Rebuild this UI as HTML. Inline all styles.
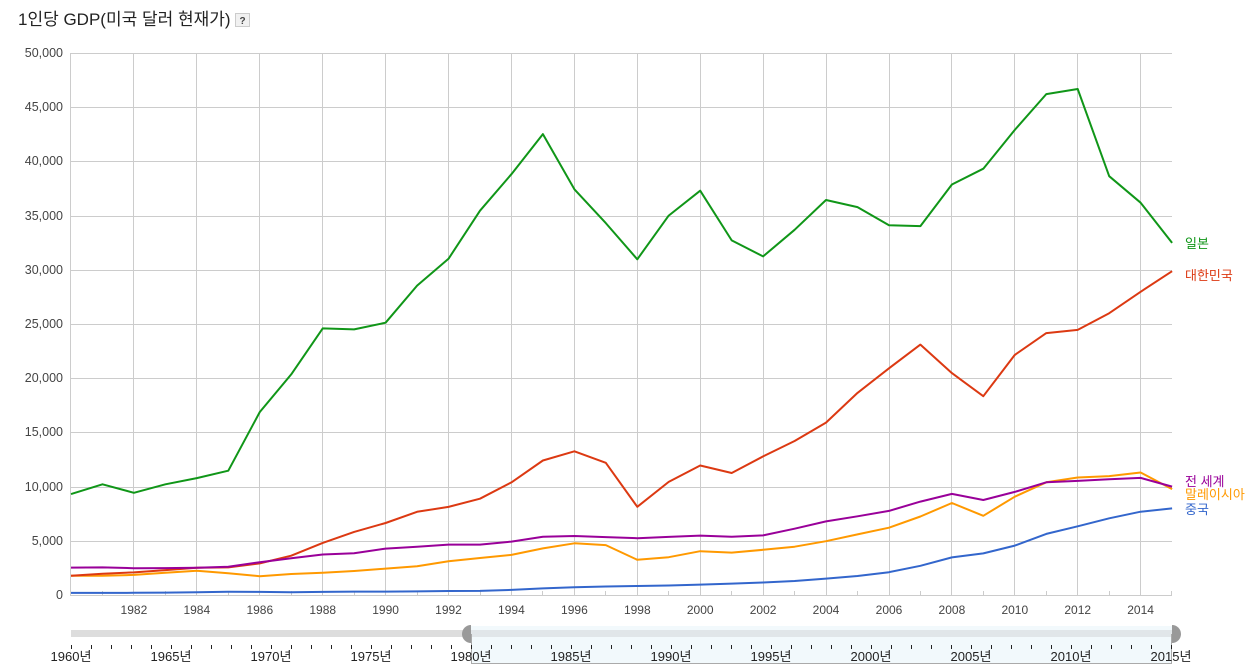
<!DOCTYPE html>
<html><head><meta charset="utf-8">
<style>
html,body{margin:0;padding:0;background:#fff;}
body{width:1256px;height:671px;overflow:hidden;position:relative;font-family:"Liberation Sans","Noto Sans CJK KR",sans-serif;}
svg{position:absolute;left:0;top:0;}
</style></head>
<body>
<svg width="1256" height="671" viewBox="0 0 1256 671" xmlns="http://www.w3.org/2000/svg" font-family="Liberation Sans, Noto Sans CJK KR, sans-serif">
<!-- title -->
<text x="18" y="25" font-size="17" fill="#222">1인당 GDP(미국 달러 현재가)</text>
<rect x="235.5" y="13.5" width="14" height="13" fill="#f1f1f1" stroke="#ccc"/>
<text x="242.5" y="24" font-size="10" font-weight="bold" fill="#444" text-anchor="middle">?</text>

<!-- horizontal grid -->
<g stroke="#cccccc" stroke-width="1">
<line x1="71" y1="53.5" x2="1172" y2="53.5"/>
<line x1="71" y1="107.5" x2="1172" y2="107.5"/>
<line x1="71" y1="161.5" x2="1172" y2="161.5"/>
<line x1="71" y1="216.5" x2="1172" y2="216.5"/>
<line x1="71" y1="270.5" x2="1172" y2="270.5"/>
<line x1="71" y1="324.5" x2="1172" y2="324.5"/>
<line x1="71" y1="378.5" x2="1172" y2="378.5"/>
<line x1="71" y1="432.5" x2="1172" y2="432.5"/>
<line x1="71" y1="487.5" x2="1172" y2="487.5"/>
<line x1="71" y1="541.5" x2="1172" y2="541.5"/>
<line x1="71" y1="595.5" x2="1172" y2="595.5"/>
<!-- vertical grid -->
<line x1="70.5" y1="53" x2="70.5" y2="596"/>
<line x1="133.5" y1="53" x2="133.5" y2="596"/>
<line x1="196.5" y1="53" x2="196.5" y2="596"/>
<line x1="259.5" y1="53" x2="259.5" y2="596"/>
<line x1="322.5" y1="53" x2="322.5" y2="596"/>
<line x1="385.5" y1="53" x2="385.5" y2="596"/>
<line x1="448.5" y1="53" x2="448.5" y2="596"/>
<line x1="511.5" y1="53" x2="511.5" y2="596"/>
<line x1="574.5" y1="53" x2="574.5" y2="596"/>
<line x1="637.5" y1="53" x2="637.5" y2="596"/>
<line x1="700.5" y1="53" x2="700.5" y2="596"/>
<line x1="763.5" y1="53" x2="763.5" y2="596"/>
<line x1="826.5" y1="53" x2="826.5" y2="596"/>
<line x1="889.5" y1="53" x2="889.5" y2="596"/>
<line x1="951.5" y1="53" x2="951.5" y2="596"/>
<line x1="1014.5" y1="53" x2="1014.5" y2="596"/>
<line x1="1077.5" y1="53" x2="1077.5" y2="596"/>
<line x1="1140.5" y1="53" x2="1140.5" y2="596"/>
<!-- odd-year ticks -->
<line x1="102.5" y1="591" x2="102.5" y2="596"/>
<line x1="165.5" y1="591" x2="165.5" y2="596"/>
<line x1="228.5" y1="591" x2="228.5" y2="596"/>
<line x1="291.5" y1="591" x2="291.5" y2="596"/>
<line x1="354.5" y1="591" x2="354.5" y2="596"/>
<line x1="417.5" y1="591" x2="417.5" y2="596"/>
<line x1="480.5" y1="591" x2="480.5" y2="596"/>
<line x1="542.5" y1="591" x2="542.5" y2="596"/>
<line x1="605.5" y1="591" x2="605.5" y2="596"/>
<line x1="668.5" y1="591" x2="668.5" y2="596"/>
<line x1="731.5" y1="591" x2="731.5" y2="596"/>
<line x1="794.5" y1="591" x2="794.5" y2="596"/>
<line x1="857.5" y1="591" x2="857.5" y2="596"/>
<line x1="920.5" y1="591" x2="920.5" y2="596"/>
<line x1="983.5" y1="591" x2="983.5" y2="596"/>
<line x1="1046.5" y1="591" x2="1046.5" y2="596"/>
<line x1="1109.5" y1="591" x2="1109.5" y2="596"/>
<line x1="1171.5" y1="591" x2="1171.5" y2="596"/>
</g>

<!-- y labels -->
<g font-size="12.5" fill="#444" text-anchor="end">
<text x="63" y="57">50,000</text>
<text x="63" y="111">45,000</text>
<text x="63" y="165">40,000</text>
<text x="63" y="220">35,000</text>
<text x="63" y="274">30,000</text>
<text x="63" y="328">25,000</text>
<text x="63" y="382">20,000</text>
<text x="63" y="436">15,000</text>
<text x="63" y="491">10,000</text>
<text x="63" y="545">5,000</text>
<text x="63" y="599">0</text>
</g>
<!-- x labels -->
<g font-size="12" fill="#444" text-anchor="middle">
<text x="133.9" y="614">1982</text>
<text x="196.8" y="614">1984</text>
<text x="259.8" y="614">1986</text>
<text x="322.7" y="614">1988</text>
<text x="385.6" y="614">1990</text>
<text x="448.5" y="614">1992</text>
<text x="511.4" y="614">1994</text>
<text x="574.4" y="614">1996</text>
<text x="637.3" y="614">1998</text>
<text x="700.2" y="614">2000</text>
<text x="763.1" y="614">2002</text>
<text x="826.0" y="614">2004</text>
<text x="889.0" y="614">2006</text>
<text x="951.9" y="614">2008</text>
<text x="1014.8" y="614">2010</text>
<text x="1077.7" y="614">2012</text>
<text x="1140.6" y="614">2014</text>
</g>

<!-- series -->
<g fill="none" stroke-width="2" stroke-linejoin="round">
<!-- China -->
<polyline stroke="#3366cc" points="71.0,592.9 102.5,592.9 133.9,592.8 165.4,592.6 196.8,592.3 228.3,591.8 259.8,591.9 291.2,592.3 322.7,591.9 354.1,591.6 385.6,591.6 417.1,591.4 448.5,591.0 480.0,590.9 511.4,589.9 542.9,588.4 574.4,587.3 605.8,586.5 637.3,586.0 668.7,585.5 700.2,584.6 731.7,583.6 763.1,582.5 794.6,581.0 826.0,578.6 857.5,576.0 889.0,572.2 920.4,565.8 951.9,557.4 983.3,553.4 1014.8,545.6 1046.3,533.9 1077.7,526.3 1109.2,518.3 1140.6,511.7 1172.1,508.4"/>
<!-- Malaysia -->
<polyline stroke="#ff9900" points="71.0,575.8 102.5,575.8 133.9,574.9 165.4,572.8 196.8,570.7 228.3,573.3 259.8,576.2 291.2,574.0 322.7,572.7 354.1,571.0 385.6,568.6 417.1,566.3 448.5,561.3 480.0,558.0 511.4,554.9 542.9,548.4 574.4,543.3 605.8,545.1 637.3,559.8 668.7,557.2 700.2,551.2 731.7,552.6 763.1,549.8 794.6,546.7 826.0,541.2 857.5,534.4 889.0,527.7 920.4,516.5 951.9,503.0 983.3,515.8 1014.8,496.7 1046.3,482.3 1077.7,477.5 1109.2,476.1 1140.6,472.5 1172.1,489.1"/>
<!-- Korea -->
<polyline stroke="#dc3912" points="71.0,575.7 102.5,573.7 133.9,572.4 165.4,570.1 196.8,567.8 228.3,567.4 259.8,563.4 291.2,555.7 322.7,542.9 354.1,531.9 385.6,523.0 417.1,511.8 448.5,506.9 480.0,498.7 511.4,482.4 542.9,460.5 574.4,451.3 605.8,462.8 637.3,506.8 668.7,481.9 700.2,465.5 731.7,473.0 763.1,456.4 794.6,441.0 826.0,422.6 857.5,392.9 889.0,368.3 920.4,344.6 951.9,373.1 983.3,396.2 1014.8,354.9 1046.3,333.1 1077.7,329.9 1109.2,313.2 1140.6,291.8 1172.1,271.2"/>
<!-- World -->
<polyline stroke="#990099" points="71.0,567.6 102.5,567.4 133.9,568.2 165.4,568.1 196.8,567.7 228.3,566.8 259.8,562.2 291.2,558.3 322.7,554.5 354.1,553.3 385.6,548.6 417.1,546.8 448.5,544.6 480.0,544.6 511.4,541.6 542.9,536.7 574.4,536.0 605.8,537.1 637.3,538.2 668.7,536.9 700.2,535.6 731.7,536.8 763.1,535.4 794.6,528.7 826.0,521.4 857.5,516.3 889.0,510.9 920.4,501.6 951.9,493.9 983.3,500.0 1014.8,491.9 1046.3,482.3 1077.7,480.9 1109.2,479.2 1140.6,477.9 1172.1,486.6"/>
<!-- Japan -->
<polyline stroke="#109618" points="71.0,494.1 102.5,484.3 133.9,492.8 165.4,484.3 196.8,478.1 228.3,470.7 259.8,412.0 291.2,374.4 322.7,328.4 354.1,329.4 385.6,322.7 417.1,285.6 448.5,258.8 480.0,210.7 511.4,174.2 542.9,134.1 574.4,189.3 605.8,223.1 637.3,259.3 668.7,215.6 700.2,190.7 731.7,240.4 763.1,256.4 794.6,229.8 826.0,200.0 857.5,207.1 889.0,225.3 920.4,226.1 951.9,184.5 983.3,168.7 1014.8,129.9 1046.3,94.1 1077.7,89.0 1109.2,176.2 1140.6,202.7 1172.1,242.9"/>
</g>

<!-- legend labels -->
<g font-size="13">
<text x="1185" y="248" fill="#109618">일본</text>
<text x="1185" y="280" fill="#dc3912">대한민국</text>
<text x="1185" y="486" fill="#990099">전 세계</text>
<text x="1185" y="499" fill="#ff9900">말레이시아</text>
<text x="1185" y="514" fill="#3366cc">중국</text>
</g>

<!-- slider -->
<rect x="71" y="630" width="400" height="7" fill="#dddddd"/>
<rect x="471" y="626" width="701" height="38" fill="#f2f9fc"/>
<rect x="471" y="630" width="701" height="7" fill="#e1e6e9"/>
<line x1="471.5" y1="634" x2="471.5" y2="664" stroke="#aaa"/>
<line x1="1171.5" y1="634" x2="1171.5" y2="664" stroke="#aaa"/>
<line x1="471" y1="663.5" x2="1172" y2="663.5" stroke="#aaa"/>
<path d="M471,625 A9,9 0 0,0 471,643 Z" fill="#999"/>
<path d="M1172,625 A9,9 0 0,1 1172,643 Z" fill="#999"/>

<g stroke="#222" stroke-width="1">
<line x1="71.5" y1="645" x2="71.5" y2="649"/><line x1="91.5" y1="645" x2="91.5" y2="649"/><line x1="111.5" y1="645" x2="111.5" y2="649"/><line x1="131.5" y1="645" x2="131.5" y2="649"/><line x1="151.5" y1="645" x2="151.5" y2="649"/>
<line x1="171.5" y1="645" x2="171.5" y2="649"/><line x1="191.5" y1="645" x2="191.5" y2="649"/><line x1="211.5" y1="645" x2="211.5" y2="649"/><line x1="231.5" y1="645" x2="231.5" y2="649"/><line x1="251.5" y1="645" x2="251.5" y2="649"/>
<line x1="271.5" y1="645" x2="271.5" y2="649"/><line x1="291.5" y1="645" x2="291.5" y2="649"/><line x1="311.5" y1="645" x2="311.5" y2="649"/><line x1="331.5" y1="645" x2="331.5" y2="649"/><line x1="351.5" y1="645" x2="351.5" y2="649"/>
<line x1="371.5" y1="645" x2="371.5" y2="649"/><line x1="391.5" y1="645" x2="391.5" y2="649"/><line x1="411.5" y1="645" x2="411.5" y2="649"/><line x1="431.5" y1="645" x2="431.5" y2="649"/><line x1="451.5" y1="645" x2="451.5" y2="649"/>
<line x1="471.5" y1="645" x2="471.5" y2="649"/><line x1="491.5" y1="645" x2="491.5" y2="649"/><line x1="511.5" y1="645" x2="511.5" y2="649"/><line x1="531.5" y1="645" x2="531.5" y2="649"/><line x1="551.5" y1="645" x2="551.5" y2="649"/>
<line x1="571.5" y1="645" x2="571.5" y2="649"/><line x1="591.5" y1="645" x2="591.5" y2="649"/><line x1="611.5" y1="645" x2="611.5" y2="649"/><line x1="631.5" y1="645" x2="631.5" y2="649"/><line x1="651.5" y1="645" x2="651.5" y2="649"/>
<line x1="671.5" y1="645" x2="671.5" y2="649"/><line x1="691.5" y1="645" x2="691.5" y2="649"/><line x1="711.5" y1="645" x2="711.5" y2="649"/><line x1="731.5" y1="645" x2="731.5" y2="649"/><line x1="751.5" y1="645" x2="751.5" y2="649"/>
<line x1="771.5" y1="645" x2="771.5" y2="649"/><line x1="791.5" y1="645" x2="791.5" y2="649"/><line x1="811.5" y1="645" x2="811.5" y2="649"/><line x1="831.5" y1="645" x2="831.5" y2="649"/><line x1="851.5" y1="645" x2="851.5" y2="649"/>
<line x1="871.5" y1="645" x2="871.5" y2="649"/><line x1="891.5" y1="645" x2="891.5" y2="649"/><line x1="911.5" y1="645" x2="911.5" y2="649"/><line x1="931.5" y1="645" x2="931.5" y2="649"/><line x1="951.5" y1="645" x2="951.5" y2="649"/>
<line x1="971.5" y1="645" x2="971.5" y2="649"/><line x1="991.5" y1="645" x2="991.5" y2="649"/><line x1="1011.5" y1="645" x2="1011.5" y2="649"/><line x1="1031.5" y1="645" x2="1031.5" y2="649"/><line x1="1051.5" y1="645" x2="1051.5" y2="649"/>
<line x1="1071.5" y1="645" x2="1071.5" y2="649"/><line x1="1091.5" y1="645" x2="1091.5" y2="649"/><line x1="1111.5" y1="645" x2="1111.5" y2="649"/><line x1="1131.5" y1="645" x2="1131.5" y2="649"/><line x1="1151.5" y1="645" x2="1151.5" y2="649"/>
<line x1="1171.5" y1="645" x2="1171.5" y2="649"/>
</g>
<g font-size="13" fill="#222" text-anchor="middle">
<text x="71" y="661">1960년</text>
<text x="171" y="661">1965년</text>
<text x="271" y="661">1970년</text>
<text x="371" y="661">1975년</text>
<text x="471" y="661">1980년</text>
<text x="571" y="661">1985년</text>
<text x="671" y="661">1990년</text>
<text x="771" y="661">1995년</text>
<text x="871" y="661">2000년</text>
<text x="971" y="661">2005년</text>
<text x="1071" y="661">2010년</text>
<text x="1171" y="661">2015년</text>
</g>
</svg>
</body></html>
